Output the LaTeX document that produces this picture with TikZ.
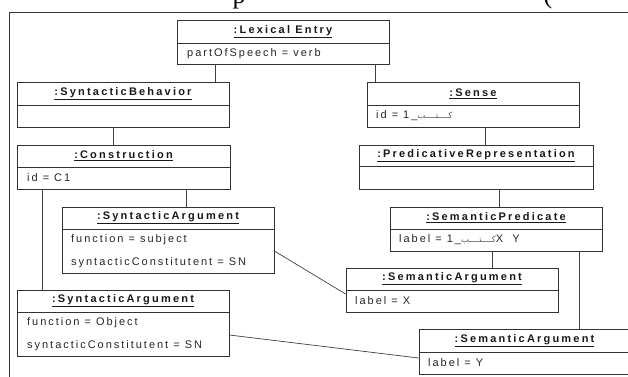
\documentclass[tikz,border=0pt]{standalone}
\usepackage{fontspec}
\setmainfont{Liberation Sans}
\newfontfamily\attrfont[LetterSpace=18]{Liberation Sans}
\newfontfamily\ttlfont[LetterSpace=20]{Liberation Sans}
\newfontfamily\arabicfont[Script=Arabic]{DejaVu Sans}
\newfontfamily\fragfont{Liberation Serif}
\TeXXeTstate=1
\tikzset{
  umlbox/.style={draw=black!80, line width=0.8pt, rectangle, inner sep=0pt},
  divline/.style={draw=black!80, line width=0.8pt},
  conn/.style={draw=black!75, line width=0.7pt},
  frameline/.style={draw=black!80, line width=1pt},
  ttl/.style={font=\ttlfont\bfseries\fontsize{11}{13}\selectfont, inner sep=0pt, text=black!90},
  attr/.style={font=\attrfont\fontsize{11}{13}\selectfont, anchor=west, inner sep=0pt, text=black!85},
  frag/.style={font=\fragfont\fontsize{26}{26}\selectfont, anchor=base, inner sep=0pt}
}
\newcommand\ar[1]{{\arabicfont\fontsize{8.5}{10}\selectfont\color{black!65}\beginR #1\endR}}
\begin{document}
\begin{tikzpicture}[x=1pt, y=-1pt]
\useasboundingbox (0,0) rectangle (628,376);
% fragments of page text above
\node[frag] (fragp) at (239,3) {p};
\node[frag] (fragparen) at (548,3) {(};
% frame
\draw[frameline] (9,380) -- (9,12) -- (632,12);

% boxes
\node[umlbox, minimum width=212pt, minimum height=44pt] (lex) at (283,42) {};
\draw[divline] (lex.west |- 0,43) -- (lex.east |- 0,43);
\node[ttl] (lex-t) at (283,31.5) {\underline{:Lexical Entry}};
\node[attr] (lex-a) at (187,54) {partOfSpeech = verb};

\node[umlbox, minimum width=212pt, minimum height=45pt] (sb) at (123,104.5) {};
\draw[divline] (sb.west |- 0,105) -- (sb.east |- 0,105);
\node[ttl] (sb-t) at (123,93.5) {\underline{:SyntacticBehavior}};

\node[umlbox, minimum width=212pt, minimum height=45pt] (sense) at (473,104.5) {};
\draw[divline] (sense.west |- 0,105) -- (sense.east |- 0,105);
\node[ttl] (sense-t) at (473,93.5) {\underline{:Sense}};
\node[attr] (sense-a) at (376,116) {id = 1\_\ar{كــــتــــب}};

\node[umlbox, minimum width=213pt, minimum height=44pt] (cons) at (123.5,167) {};
\draw[divline] (cons.west |- 0,167) -- (cons.east |- 0,167);
\node[ttl] (cons-t) at (123.5,156) {\underline{:Construction}};
\node[attr] (cons-a) at (27,178) {id = C1};

\node[umlbox, minimum width=234pt, minimum height=44pt] (pred) at (476,167) {};
\draw[divline] (pred.west |- 0,166) -- (pred.east |- 0,166);
\node[ttl] (pred-t) at (476,155.5) {\underline{:PredicativeRepresentation}};

\node[umlbox, minimum width=212pt, minimum height=66pt] (sa1) at (168,240) {};
\draw[divline] (sa1.west |- 0,229) -- (sa1.east |- 0,229);
\node[ttl] (sa1-t) at (168,218) {\underline{:SyntacticArgument}};
\node[attr] (sa1-a) at (71,240) {function = subject};
\node[attr] (sa1-b) at (71,263) {syntacticConstitutent = SN};

\node[umlbox, minimum width=212pt, minimum height=44pt] (sp) at (496,229) {};
\draw[divline] (sp.west |- 0,229) -- (sp.east |- 0,229);
\node[ttl] (sp-t) at (496,218) {\underline{:SemanticPredicate}};
\node[attr] (sp-a) at (399,240) {label = 1\_\ar{كــــتــــب}X\hspace{9pt}Y};

\node[umlbox, minimum width=212pt, minimum height=44pt] (sem1) at (452,290) {};
\draw[divline] (sem1.west |- 0,290) -- (sem1.east |- 0,290);
\node[ttl] (sem1-t) at (452,279) {\underline{:SemanticArgument}};
\node[attr] (sem1-a) at (355,301) {label = X};

\node[umlbox, minimum width=212pt, minimum height=66pt] (sa2) at (123,323) {};
\draw[divline] (sa2.west |- 0,312) -- (sa2.east |- 0,312);
\node[ttl] (sa2-t) at (123,301) {\underline{:SyntacticArgument}};
\node[attr] (sa2-a) at (27,323) {function = Object};
\node[attr] (sa2-b) at (27,346) {syntacticConstitutent = SN};

\node[umlbox, minimum width=211pt, minimum height=45pt] (sem2) at (524.5,351.5) {};
\draw[divline] (sem2.west |- 0,352) -- (sem2.east |- 0,352);
\node[ttl] (sem2-t) at (524.5,340.5) {\underline{:SemanticArgument}};
\node[attr] (sem2-a) at (428,363) {label = Y};

% connectors
\draw[conn] (215,0 |- lex.south) -- (215,0 |- sb.north);
\draw[conn] (375,0 |- lex.south) -- (375,0 |- sense.north);
\draw[conn] (113,0 |- sb.south) -- (113,0 |- cons.north);
\draw[conn] (485,0 |- sense.south) -- (485,0 |- pred.north);
\draw[conn] (186,0 |- cons.south) -- (186,0 |- sa1.north);
\draw[conn] (42,0 |- cons.south) -- (42,0 |- sa2.north);
\draw[conn] (499,0 |- pred.south) -- (499,0 |- sp.north);
\draw[conn] (492,0 |- sp.south) -- (492,0 |- sem1.north);
\draw[conn] (579,0 |- sp.south) -- (579,0 |- sem2.north);
\draw[conn] (sa1.east |- 0,251) -- (sem1.west |- 0,294);
\draw[conn] (sa2.east |- 0,335) -- (sem2.west |- 0,358);
\end{tikzpicture}
\end{document}
